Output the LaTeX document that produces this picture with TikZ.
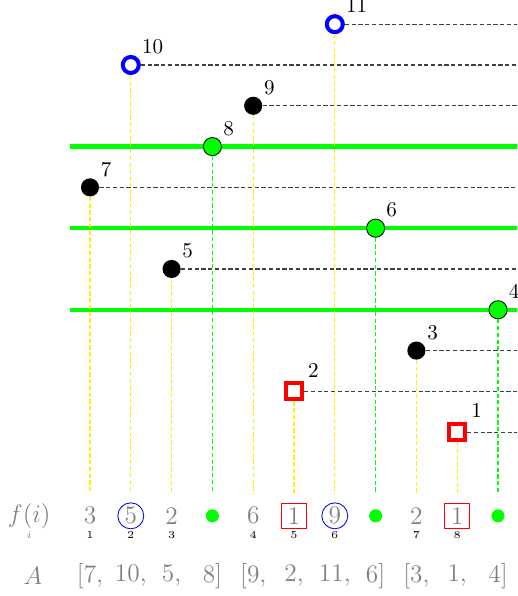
\documentclass[tikz,border=0pt]{standalone}
\usepackage{amsmath,amssymb}
\usepackage{xcolor}
\usepackage{tikz}
\usetikzlibrary{positioning, calc}
\tikzset{
  keydot/.style={
    circle, fill=black, inner sep=0pt, minimum size=8.6pt
  },
  splitdot/.style={
    circle, draw=black, thin, fill=green, inner sep=0pt, minimum size=8.6pt
  },
  maxring/.style={
    circle, draw=blue, line width=1.9pt, inner sep=0pt, minimum size=7.6pt
  },
  minsquare/.style={
    rectangle, draw=red, line width=1.9pt, inner sep=0pt, minimum size=7.6pt
  },
  keylabel/.style={
    font=\normalsize, label distance=-2.2pt
  },
  keyguide/.style={
    dash pattern=on 2pt off 1.2pt, line width=0.55pt, color=black!75
  },
  dropguide/.style={
    dash pattern=on 2pt off 1.2pt, line width=0.55pt, color=yellow
  },
  splitguide/.style={
    dash pattern=on 2pt off 1.2pt, line width=0.55pt, color=green
  },
  splitline/.style={
    line width=2pt, color=green
  },
  rowtext/.style={
    text=gray, font=\large, inner sep=1pt
  },
  idxtext/.style={
    font=\tiny, inner sep=1pt
  },
  ringbox/.style={
    circle, draw=blue, thin, inner sep=0pt, minimum size=12.3pt
  },
  boxed/.style={
    rectangle, draw=red, thin, inner sep=0pt, minimum size=12pt
  },
  rowdot/.style={
    circle, fill=green, inner sep=0pt, minimum size=6.2pt
  },
}

\begin{document}
\begin{tikzpicture}[x=0.68cm, y=0.68cm]
  \useasboundingbox (-1.206,-3.015) rectangle (11.466,11.593);
  \clip (-1.206,-3.015) rectangle (11.466,11.593);

  % Split levels
  \coordinate (s8a) at (0.5,8);  \coordinate (s8b) at (12,8);
  \coordinate (s6a) at (0.5,6);  \coordinate (s6b) at (12,6);
  \coordinate (s4a) at (0.5,4);  \coordinate (s4b) at (12,4);
  \draw[splitline] (s8a) -- (s8b);
  \draw[splitline] (s6a) -- (s6b);
  \draw[splitline] (s4a) -- (s4b);

  % Keys
  \node[keydot, label={[keylabel]above right:7}] (k1) at (1,7) {};
  \node[maxring, label={[keylabel]above right:10}] (k2) at (2,10) {};
  \node[keydot, label={[keylabel]above right:5}] (k3) at (3,5) {};
  \node[splitdot, label={[keylabel]above right:8}] (k4) at (4,8) {};
  \node[keydot, label={[keylabel]above right:9}] (k5) at (5,9) {};
  \node[minsquare, label={[keylabel]above right:2}] (k6) at (6,2) {};
  \node[maxring, label={[keylabel]above right:11}] (k7) at (7,11) {};
  \node[splitdot, label={[keylabel]above right:6}] (k8) at (8,6) {};
  \node[keydot, label={[keylabel]above right:3}] (k9) at (9,3) {};
  \node[minsquare, label={[keylabel]above right:1}] (k10) at (10,1) {};
  \node[splitdot, label={[keylabel]above right:4}] (k11) at (11,4) {};

  % Guide ends
  \coordinate (e1) at (12,7);  \coordinate (e2) at (12,10);
  \coordinate (e3) at (12,5);  \coordinate (e5) at (12,9);
  \coordinate (e6) at (12,2);  \coordinate (e7) at (12,11);
  \coordinate (e9) at (12,3);  \coordinate (e10) at (12,1);
  \foreach \k in {1,...,11} {
    \coordinate (b\k) at (\k,-0.5);
  }

  % Guides
  \draw[keyguide] (k1) -- (e1);
  \draw[keyguide] (k2) -- (e2);
  \draw[keyguide] (k3) -- (e3);
  \draw[keyguide] (k5) -- (e5);
  \draw[keyguide] (k6) -- (e6);
  \draw[keyguide] (k7) -- (e7);
  \draw[keyguide] (k9) -- (e9);
  \draw[keyguide] (k10) -- (e10);
  \draw[dropguide] (k1) -- (b1);
  \draw[dropguide] (k2) -- (b2);
  \draw[dropguide] (k3) -- (b3);
  \draw[splitguide] (k4) -- (b4);
  \draw[dropguide] (k5) -- (b5);
  \draw[dropguide] (k6) -- (b6);
  \draw[dropguide] (k7) -- (b7);
  \draw[splitguide] (k8) -- (b8);
  \draw[dropguide] (k9) -- (b9);
  \draw[dropguide] (k10) -- (b10);
  \draw[splitguide] (k11) -- (b11);

  % f(i) row
  \node[rowtext] (fname) at (-0.49,-1.05) {$f(i)$};
  \node[idxtext, text=gray] (iname) at (-0.49,-1.52) {$i$};
  \node[rowtext] (f1) at (1,-1.05) {3};
  \node[rowtext, ringbox] (f2) at (2,-1.05) {5};
  \node[rowtext] (f3) at (3,-1.05) {2};
  \node[rowdot] (f4) at (4,-1.05) {};
  \node[rowtext] (f5) at (5,-1.05) {6};
  \node[rowtext, boxed] (f6) at (6,-1.05) {1};
  \node[rowtext, ringbox] (f7) at (7,-1.05) {9};
  \node[rowdot] (f8) at (8,-1.05) {};
  \node[rowtext] (f9) at (9,-1.05) {2};
  \node[rowtext, boxed] (f10) at (10,-1.05) {1};
  \node[rowdot] (f11) at (11,-1.05) {};

  % index row
  \node[idxtext] (i1) at (1,-1.52) {1};
  \node[idxtext] (i2) at (2,-1.52) {2};
  \node[idxtext] (i3) at (3,-1.52) {3};
  \node[idxtext] (i4) at (5,-1.52) {4};
  \node[idxtext] (i5) at (6,-1.52) {5};
  \node[idxtext] (i6) at (7,-1.52) {6};
  \node[idxtext] (i7) at (9,-1.52) {7};
  \node[idxtext] (i8) at (10,-1.52) {8};

  % array A
  \node[rowtext] (aname) at (-0.4,-2.52) {$A$};
  \node[rowtext] (a1) at (1,-2.52) {[7,};
  \node[rowtext] (a2) at (2,-2.52) {10,};
  \node[rowtext] (a3) at (3,-2.52) {5,};
  \node[rowtext] (a4) at (4,-2.52) {8]};
  \node[rowtext] (a5) at (5,-2.52) {[9,};
  \node[rowtext] (a6) at (6,-2.52) {2,};
  \node[rowtext] (a7) at (7,-2.52) {11,};
  \node[rowtext] (a8) at (8,-2.52) {6]};
  \node[rowtext] (a9) at (9,-2.52) {[3,};
  \node[rowtext] (a10) at (10,-2.52) {1,};
  \node[rowtext] (a11) at (11,-2.52) {4]};
\end{tikzpicture}
\end{document}
